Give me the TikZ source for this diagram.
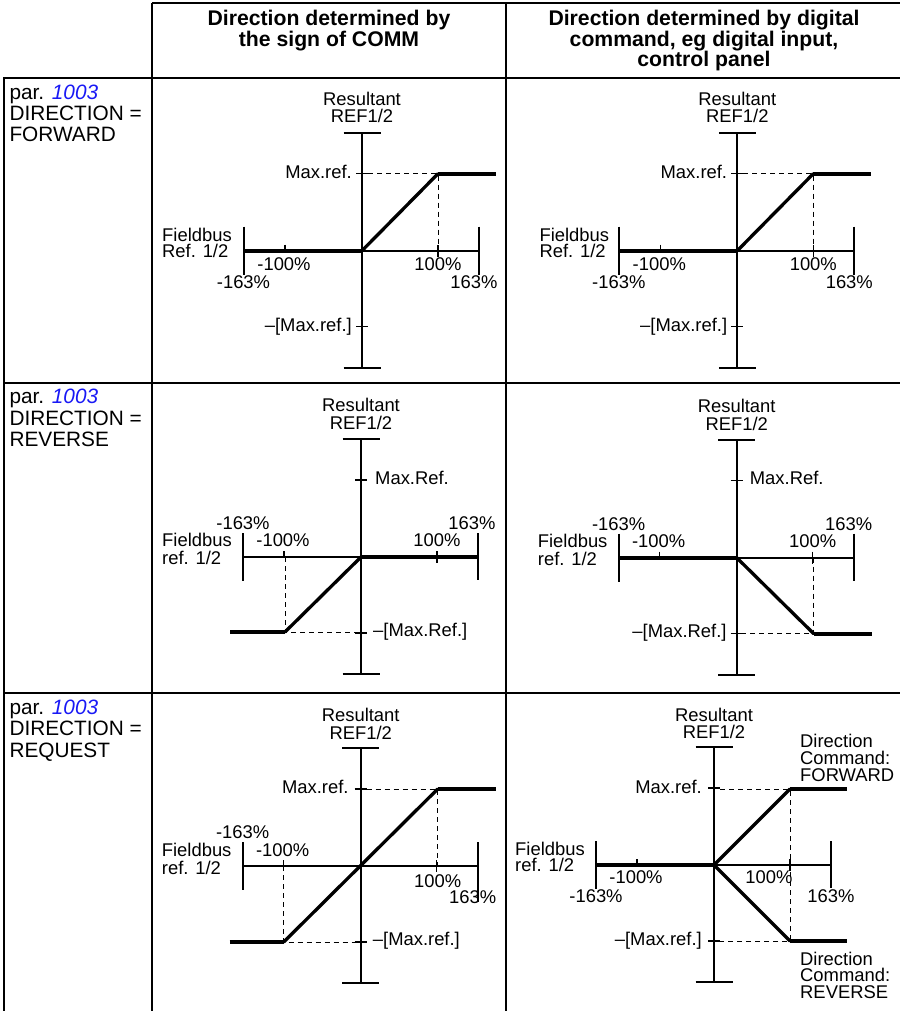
\documentclass[tikz,border=0pt]{standalone}
\usepackage{fontspec}
\setmainfont{Liberation Sans}
\definecolor{parblue}{RGB}{25,25,245}
\tikzset{
 tbl/.style={line width=2.2pt},
 ax/.style={line width=1.8pt},
 tk/.style={line width=1.5pt},
 flat/.style={line width=4pt},
 diag/.style={line width=3.3pt,line cap=round},
 dsh/.style={line width=0.9pt,dash pattern=on 5pt off 4pt},
 lbl/.style={inner sep=0pt,font=\fontsize{18.4}{16.7}\selectfont},
 mlbl/.style={inner sep=0pt,align=left,anchor=base west,font=\fontsize{18.4}{16.6}\selectfont},
 rl/.style={inner sep=0pt,font=\fontsize{20.8}{21}\selectfont,anchor=base west},
 hd/.style={inner sep=0pt,font=\bfseries\fontsize{21.2}{20.3}\selectfont,anchor=base},
}
\newcommand\myaxes[1]{%
 \draw[ax] (0,-118) -- (0,117);
 \draw[ax] (-18.5,-118) -- (18.5,-118);
 \draw[ax] (-18.5,117) -- (18.5,117);
 \draw[ax] (-118,0) -- (117,0);
 \draw[ax] (-118,-24) -- (-118,24);
 \draw[ax] (117,-24) -- (117,#1);
 \draw[tk] (-77,-6) -- (-77,0);
 \draw[tk] (76,-6) -- (76,6);
 \draw[tk] (-6,-77) -- (6,-77);
 \draw[tk] (-6,76) -- (6,76);
}
\begin{document}
\begin{tikzpicture}[x=1pt,y=-1pt]
\useasboundingbox (0,0) rectangle (900,1011);
% table
\draw[tbl] (152,3) -- (900,3);
\draw[tbl] (3,78) -- (900,78);
\draw[tbl] (3,383) -- (900,383);
\draw[tbl] (3,693) -- (900,693);
\draw[tbl] (4,78) -- (4,1011);
\draw[tbl] (152,3) -- (152,1011);
\draw[tbl] (506,3) -- (506,1011);
% headers
\node[hd] (h1a) at (329,26) {Direction determined by};
\node[hd] (h1b) at (329,46.7) {the sign of COMM};
\node[hd] (h2a) at (704,26) {Direction determined by digital};
\node[hd] (h2b) at (704,46.7) {command, eg digital input,};
\node[hd] (h2c) at (704,66.7) {control panel};
% row labels
\node[rl] (r1a) at (9.3,99.5) {par. {\color{parblue}\itshape 1003}};
\node[rl] (r1b) at (9.3,120.7) {DIRECTION =};
\node[rl] (r1c) at (9.3,141.7) {FORWARD};
\node[rl] (r2a) at (9.3,403.8) {par. {\color{parblue}\itshape 1003}};
\node[rl] (r2b) at (9.3,425) {DIRECTION =};
\node[rl] (r2c) at (9.3,446.5) {REVERSE};
\node[rl] (r3a) at (9.3,714.3) {par. {\color{parblue}\itshape 1003}};
\node[rl] (r3b) at (9.3,735.7) {DIRECTION =};
\node[rl] (r3c) at (9.3,757) {REQUEST};
% ---------- row 1 col 1
\begin{scope}[shift={(362,250.7)}]
\myaxes{24}
\draw[dsh] (6,-77) -- (76,-77) -- (76,0);
\draw[diag] (0,0) -- (76,-77);
\draw[flat] (-118,0) -- (0,0);
\draw[flat] (76,-77) -- (134,-77);
\node[lbl,anchor=base] (a1res) at (0,-144.7) {Resultant};
\node[lbl,anchor=base] (a1ref) at (0,-128) {REF1/2};
\node[lbl,anchor=base east] (a1max) at (-10,-72.5) {Max.ref.};
\node[lbl,anchor=base east] (a1min) at (-10,80.5) {–[Max.ref.]};
\node[lbl,anchor=base west] (a1fb) at (-200,-9.7) {Fieldbus};
\node[lbl,anchor=base west] (a1fr) at (-200,6.6) {Ref. 1/2};
\node[lbl,anchor=base] (a1m100) at (-78,19.3) {-100\%};
\node[lbl,anchor=base] (a1m163) at (-118.5,37.6) {-163\%};
\node[lbl,anchor=base] (a1p100) at (76,19.3) {100\%};
\node[lbl,anchor=base] (a1p163) at (112,37.6) {163\%};
\end{scope}
% ---------- row 1 col 2
\begin{scope}[shift={(737.3,250.7)}]
\myaxes{24}
\draw[dsh] (6,-77) -- (76,-77) -- (76,0);
\draw[diag] (0,0) -- (76,-77);
\draw[flat] (-118,0) -- (0,0);
\draw[flat] (76,-77) -- (134,-77);
\node[lbl,anchor=base] (b1res) at (0,-144.7) {Resultant};
\node[lbl,anchor=base] (b1ref) at (0,-128) {REF1/2};
\node[lbl,anchor=base east] (b1max) at (-10,-72.5) {Max.ref.};
\node[lbl,anchor=base east] (b1min) at (-10,80.5) {–[Max.ref.]};
\node[lbl,anchor=base west] (b1fb) at (-198,-9.7) {Fieldbus};
\node[lbl,anchor=base west] (b1fr) at (-198,6.6) {Ref. 1/2};
\node[lbl,anchor=base] (b1m100) at (-78,19.3) {-100\%};
\node[lbl,anchor=base] (b1m163) at (-118.5,37.6) {-163\%};
\node[lbl,anchor=base] (b1p100) at (76,19.3) {100\%};
\node[lbl,anchor=base] (b1p163) at (112,37.6) {163\%};
\end{scope}
% ---------- row 2 col 1
\begin{scope}[shift={(361,557)}]
\myaxes{23}
\draw[dsh] (-76,0) -- (-76,75) -- (-6,75);
\draw[diag] (0,0) -- (-76,75);
\draw[flat] (0,0) -- (118,0);
\draw[flat] (-76,75) -- (-131,75);
\node[lbl,anchor=base] (a2res) at (0,-145.3) {Resultant};
\node[lbl,anchor=base] (a2ref) at (0,-127.7) {REF1/2};
\node[lbl,anchor=base west] (a2max) at (14,-73) {Max.Ref.};
\node[lbl,anchor=base west] (a2min) at (12,79) {–[Max.Ref.]};
\node[lbl,anchor=base west] (a2fb) at (-199,-10.3) {Fieldbus};
\node[lbl,anchor=base west] (a2fr) at (-199,7.3) {ref. 1/2};
\node[lbl,anchor=base] (a2m163) at (-118,-27.7) {-163\%};
\node[lbl,anchor=base] (a2m100) at (-78,-10.3) {-100\%};
\node[lbl,anchor=base] (a2p100) at (76,-10.3) {100\%};
\node[lbl,anchor=base] (a2p163) at (111,-27.7) {163\%};
\end{scope}
% ---------- row 2 col 2
\begin{scope}[shift={(736.7,557.7)}]
\myaxes{23}
\draw[dsh] (77,0) -- (77,76) -- (6,76);
\draw[diag] (0,0) -- (77,76);
\draw[flat] (-118,0) -- (0,0);
\draw[flat] (77,76) -- (135,76);
\node[lbl,anchor=base] (b2res) at (0,-145.3) {Resultant};
\node[lbl,anchor=base] (b2ref) at (0,-127.7) {REF1/2};
\node[lbl,anchor=base west] (b2max) at (13,-73) {Max.Ref.};
\node[lbl,anchor=base east] (b2min) at (-10,80) {–[Max.Ref.]};
\node[lbl,anchor=base west] (b2fb) at (-199,-10.3) {Fieldbus};
\node[lbl,anchor=base west] (b2fr) at (-199,7.3) {ref. 1/2};
\node[lbl,anchor=base] (b2m163) at (-118,-27.7) {-163\%};
\node[lbl,anchor=base] (b2m100) at (-78,-10.3) {-100\%};
\node[lbl,anchor=base] (b2p100) at (76,-10.3) {100\%};
\node[lbl,anchor=base] (b2p163) at (112,-27.7) {163\%};
\end{scope}
% ---------- row 3 col 1
\begin{scope}[shift={(360.7,866)}]
\myaxes{36}
\draw[dsh] (6,-77) -- (77,-77) -- (77,0);
\draw[dsh] (-77,0) -- (-77,76) -- (-6,76);
\draw[diag] (-77,76) -- (77,-77);
\draw[flat] (-131,76) -- (-77,76);
\draw[flat] (77,-77) -- (135,-77);
\node[lbl,anchor=base] (a3res) at (0,-144.3) {Resultant};
\node[lbl,anchor=base] (a3ref) at (0,-126.7) {REF1/2};
\node[lbl,anchor=base east] (a3max) at (-12,-72.5) {Max.ref.};
\node[lbl,anchor=base west] (a3min) at (12,79.5) {–[Max.ref.]};
\node[lbl,anchor=base west] (a3fb) at (-199,-9.3) {Fieldbus};
\node[lbl,anchor=base west] (a3fr) at (-199,8) {ref. 1/2};
\node[lbl,anchor=base] (a3m163) at (-118,-27.7) {-163\%};
\node[lbl,anchor=base] (a3m100) at (-78,-9.3) {-100\%};
\node[lbl,anchor=base] (a3p100) at (77,21) {100\%};
\node[lbl,anchor=base] (a3p163) at (112,37) {163\%};
\end{scope}
% ---------- row 3 col 2
\begin{scope}[shift={(714,865)}]
\myaxes{23}
\draw[dsh] (6,-76) -- (76,-76) -- (76,76) -- (6,76);
\draw[diag] (0,0) -- (76,-76);
\draw[diag] (0,0) -- (76,76);
\draw[flat] (-118,0) -- (0,0);
\draw[flat] (76,-76) -- (133,-76);
\draw[flat] (76,76) -- (133,76);
\node[lbl,anchor=base] (b3res) at (0,-143.5) {Resultant};
\node[lbl,anchor=base] (b3ref) at (0,-126.7) {REF1/2};
\node[lbl,anchor=base east] (b3max) at (-12,-72) {Max.ref.};
\node[lbl,anchor=base east] (b3min) at (-12,80) {–[Max.ref.]};
\node[lbl,anchor=base west] (b3fb) at (-199,-10) {Fieldbus};
\node[lbl,anchor=base west] (b3fr) at (-199,6.7) {ref. 1/2};
\node[lbl,anchor=base] (b3m100) at (-78,18.3) {-100\%};
\node[lbl,anchor=base] (b3m163) at (-118,37) {-163\%};
\node[lbl,anchor=base] (b3p100) at (55,18.3) {100\%};
\node[lbl,anchor=base] (b3p163) at (117,37) {163\%};
\node[mlbl] (b3fw) at (86,-84) {Direction\\Command:\\FORWARD};
\node[mlbl] (b3rv) at (86,133.3) {Direction\\Command:\\REVERSE};
\end{scope}
\end{tikzpicture}
\end{document}
